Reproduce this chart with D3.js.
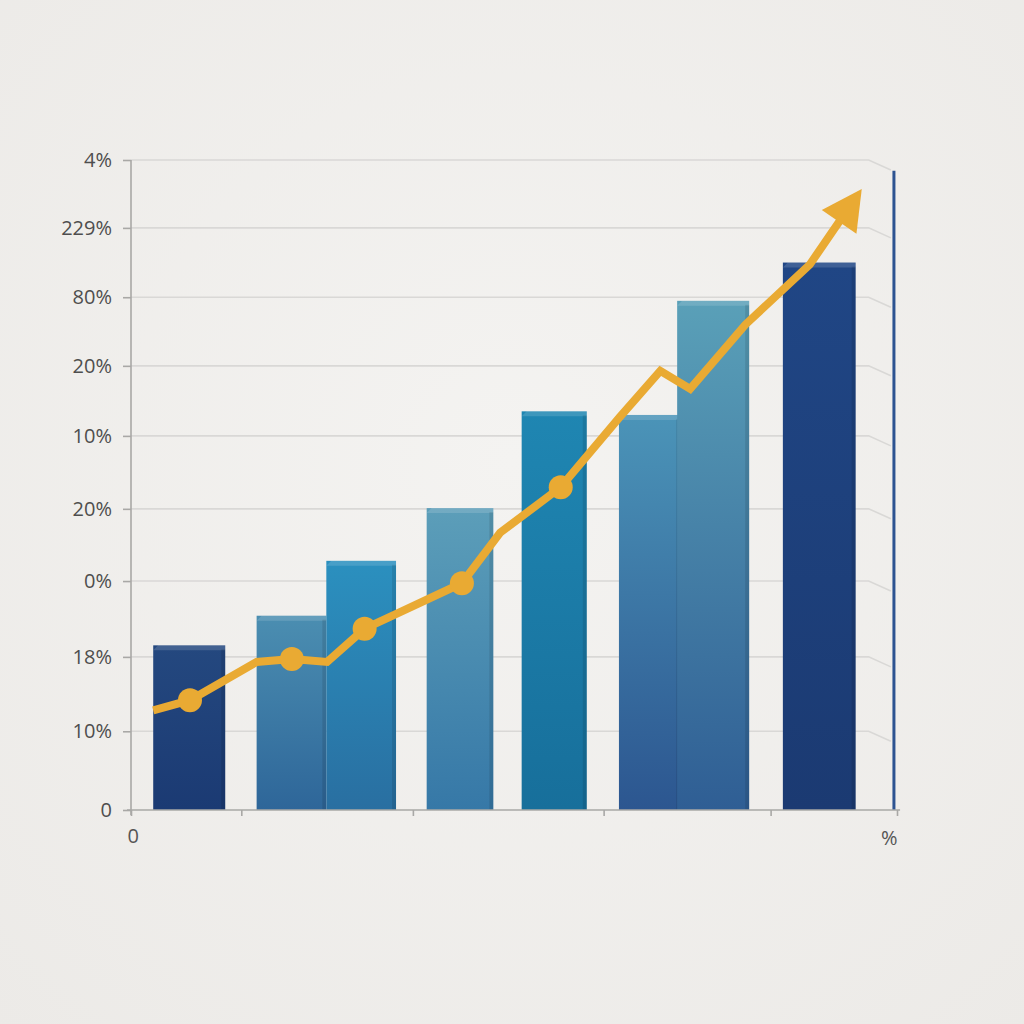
<!DOCTYPE html>
<html>
<head>
<meta charset="utf-8">
<script src="https://cdn.jsdelivr.net/npm/d3@7"></script>
<style>
  html, body { margin: 0; padding: 0; background: #f2f0ee; }
  svg { display: block; }
</style>
</head>
<body>
<div id="chart"></div>
<script>
// tick labels as printed on the picture (bottom to top); spacing is uneven in the original
var yTickValues = [0, 10.9, 21.2, 31.7, 41.7, 51.8, 61.5, 71.0, 80.6, 90];
var yTickLabels = ["0", "10%", "18%", "0%", "20%", "10%", "20%", "80%", "229%", "4%"];
var xTickValues = [0, 14.4, 36.8, 61.7, 83.5, 100];

// bars: left/right edge on the x scale, height on the y scale
var barFrom  = [2.9, 16.4, 25.5, 38.6, 51.0, 63.7, 71.3, 85.1];
var barTo    = [12.3, 25.5, 34.6, 47.3, 59.5, 71.7, 80.7, 94.6];
var barValue = [22.8, 26.9, 34.5, 41.8, 55.2, 54.7, 70.5, 75.8];
var barTopColor    = ["#24487f", "#4b8eb1", "#2b90bf", "#5c9eb9", "#1f86b2", "#4b94b8", "#5aa0b8", "#204685"];
var barBottomColor = ["#1b3a73", "#2e6699", "#296fa1", "#3678a7", "#176f9b", "#2c5690", "#2f5e94", "#1b3a72"];

// trend line
var lineX = [2.9, 7.7, 16.4, 21.0, 25.6, 30.5, 34.5, 43.2, 48.2, 56.1, 63.8, 69.1, 73.0, 80.2, 88.6, 95.4];
var lineY = [13.8, 15.2, 20.5, 20.9, 20.5, 25.1, 27.1, 31.4, 38.4, 44.7, 54.4, 60.8, 58.3, 67.2, 75.5, 86.0];
var markerIndex = [1, 3, 5, 7, 9];

var width = 1024, height = 1024;
var svg = d3.select("#chart").append("svg")
    .attr("width", width).attr("height", height);

var defs = svg.append("defs");
var bg = defs.append("radialGradient").attr("id", "bg")
    .attr("cx", "50%").attr("cy", "45%").attr("r", "75%");
bg.append("stop").attr("offset", "0%").attr("stop-color", "#f4f3f1");
bg.append("stop").attr("offset", "100%").attr("stop-color", "#eceae7");
svg.append("rect").attr("width", width).attr("height", height).attr("fill", "url(#bg)");

var x = d3.scaleLinear().domain([0, 100]).range([131, 897]);
var y = d3.scaleLinear().domain([0, 90]).range([810, 160]);

// gridlines with the little perspective bend on the right
var grid = svg.append("g");
grid.selectAll("path")
    .data(yTickValues.slice(1))
    .enter().append("path")
    .attr("d", function(d) {
      return "M" + x(0) + "," + y(d) + "H" + x(96.3) + "L" + x(99.2) + "," + (y(d) + 10);
    })
    .attr("fill", "none")
    .attr("stroke", "#d9d8d6")
    .attr("stroke-width", 1.6);

// bars
barFrom.forEach(function(d, i) {
  var g = defs.append("linearGradient").attr("id", "bar" + i)
      .attr("x1", 0).attr("y1", 0).attr("x2", 0).attr("y2", 1);
  g.append("stop").attr("offset", "0%").attr("stop-color", barTopColor[i]);
  g.append("stop").attr("offset", "100%").attr("stop-color", barBottomColor[i]);
});

var bars = svg.append("g").selectAll("g")
    .data(barFrom)
    .enter().append("g");

bars.append("rect")
    .attr("x", function(d) { return x(d); })
    .attr("y", function(d, i) { return y(barValue[i]); })
    .attr("width", function(d, i) { return x(barTo[i]) - x(d); })
    .attr("height", function(d, i) { return y(0) - y(barValue[i]); })
    .attr("fill", function(d, i) { return "url(#bar" + i + ")"; });

// top face
bars.append("path")
    .attr("d", function(d, i) {
      var x0 = x(d), x1 = x(barTo[i]), t = y(barValue[i]);
      return "M" + x0 + "," + (t + 5) + "L" + (x0 + 5) + "," + t + "H" + x1 + "V" + (t + 5) + "Z";
    })
    .attr("fill", "#ffffff").attr("opacity", 0.14);

// darker right side
bars.append("rect")
    .attr("x", function(d, i) { return x(barTo[i]) - 4; })
    .attr("y", function(d, i) { return y(barValue[i]) + 4; })
    .attr("width", 4)
    .attr("height", function(d, i) { return y(0) - y(barValue[i]) - 4; })
    .attr("fill", "#000000").attr("opacity", 0.1);

// right border line
svg.append("line")
    .attr("x1", x(99.6)).attr("x2", x(99.6))
    .attr("y1", y(88.5)).attr("y2", y(0))
    .attr("stroke", "#2d5391").attr("stroke-width", 3);

// axes
var yAxis = svg.append("g")
    .attr("transform", "translate(" + x(0) + ",0)")
    .call(d3.axisLeft(y).tickValues(yTickValues)
      .tickFormat(function(d, i) { return yTickLabels[i]; })
      .tickSize(8).tickPadding(11));

var xAxis = svg.append("g")
    .attr("transform", "translate(0," + y(0) + ")")
    .call(d3.axisBottom(x).tickValues(xTickValues).tickFormat("").tickSize(6));

[yAxis, xAxis].forEach(function(a) {
  a.selectAll("path, line").attr("stroke", "#a9a8a6").attr("stroke-width", 1.6);
});
xAxis.select(".domain").attr("d", "M" + (x(0) - 4) + ",0H" + x(100.4));
yAxis.select(".domain").attr("d", "M0," + y(90) + "V" + (y(0) + 5));
yAxis.selectAll("text")
    .attr("font-family", "Open Sans, sans-serif")
    .attr("font-size", 20)
    .attr("fill", "#4e4e4e");

svg.append("text").attr("x", x(0.3)).attr("y", y(0) + 33)
    .attr("text-anchor", "middle")
    .attr("font-family", "Open Sans, sans-serif").attr("font-size", 20)
    .attr("fill", "#555").text("0");
svg.append("text").attr("x", x(99)).attr("y", y(0) + 35)
    .attr("text-anchor", "middle")
    .attr("font-family", "Open Sans, sans-serif").attr("font-size", 20)
    .attr("fill", "#555").text("%");

// trend line with arrow
var pts = lineX.map(function(d, i) { return [x(d), y(lineY[i])]; });
var tip = pts[pts.length - 1], prev = pts[pts.length - 2];
var dx = tip[0] - prev[0], dy = tip[1] - prev[1];
var len = Math.sqrt(dx * dx + dy * dy);
var ux = dx / len, uy = dy / len;
var headLen = 40, headHalf = 21;
var base = [tip[0] - ux * headLen, tip[1] - uy * headLen];
var linePts = pts.slice(0, -1).concat([[base[0] + ux * 4, base[1] + uy * 4]]);

svg.append("path")
    .datum(linePts)
    .attr("d", d3.line().curve(d3.curveLinear))
    .attr("fill", "none")
    .attr("stroke", "#e9aa33")
    .attr("stroke-width", 8)
    .attr("stroke-linejoin", "miter")
    .attr("stroke-linecap", "butt");

svg.append("path")
    .attr("d", "M" + tip[0] + "," + tip[1] +
      "L" + (base[0] - uy * headHalf) + "," + (base[1] + ux * headHalf) +
      "L" + (base[0] + uy * headHalf) + "," + (base[1] - ux * headHalf) + "Z")
    .attr("fill", "#e9aa33");

svg.append("g").selectAll("circle")
    .data(markerIndex)
    .enter().append("circle")
    .attr("cx", function(i) { return x(lineX[i]); })
    .attr("cy", function(i) { return y(lineY[i]); })
    .attr("r", 12)
    .attr("fill", "#e9aa33");
</script>
</body>
</html>
